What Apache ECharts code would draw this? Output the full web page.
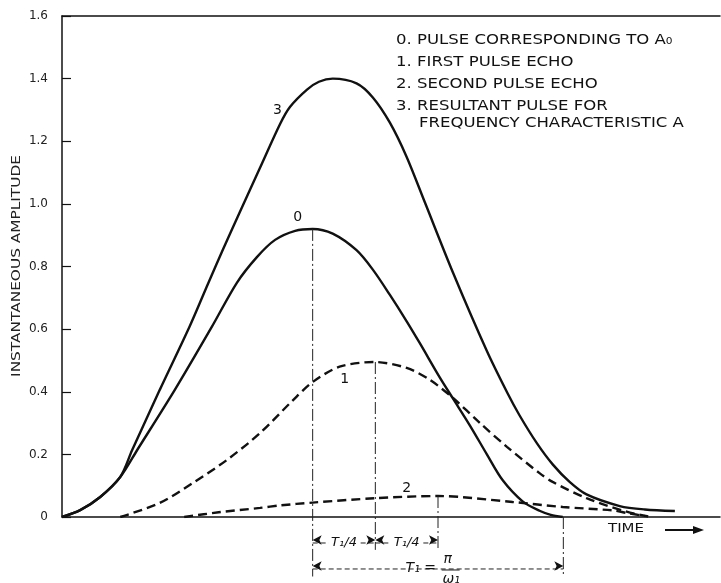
<!DOCTYPE html>
<html>
<head>
<meta charset="utf-8">
<script src="https://cdn.jsdelivr.net/npm/echarts@6/dist/echarts.min.js"></script>
<style>
  html, body { margin: 0; padding: 0; background: #fff; }
  #chart { width: 721px; height: 583px; }
</style>
</head>
<body>
<div id="chart"></div>
<script>
// time in units of T1/4, amplitude
var pulse0 = [[0,0],[0.29,0.022],[0.61,0.064],[0.93,0.128],[1.2,0.214],[1.8,0.406],[2.39,0.607],
  [2.79,0.748],[3.11,0.83],[3.4,0.885],[3.72,0.914],[4.0,0.92],[4.32,0.905],[4.7,0.852],[4.96,0.79],
  [5.23,0.71],[5.5,0.625],[5.71,0.555],[6.03,0.445],[6.24,0.378],[6.51,0.292],[6.78,0.2],[7.03,0.118],
  [7.35,0.05],[7.62,0.02],[7.8,0.007],[7.99,0]];
var echo1 = [[0.93,0],[1.56,0.045],[2.09,0.109],[2.63,0.182],[3.16,0.268],[3.68,0.372],[4.0,0.431],
  [4.43,0.48],[4.99,0.495],[5.5,0.476],[5.87,0.438],[6.24,0.38],[6.67,0.30],[7.1,0.224],[7.62,0.14],
  [7.83,0.112],[8.37,0.06],[9.01,0.017],[9.4,0]];
var echo2 = [[1.95,0],[2.5,0.015],[3.16,0.029],[3.48,0.037],[4.0,0.046],[4.99,0.06],[6.0,0.067],
  [7.19,0.048],[7.99,0.032],[8.79,0.021],[9.01,0.013],[9.3,0.003]];
var resultant = [[0,0],[0.29,0.022],[0.61,0.064],[0.93,0.128],[1.12,0.214],[1.56,0.406],[2.04,0.61],
  [2.33,0.745],[2.57,0.855],[2.84,0.975],[3.16,1.115],[3.48,1.255],[3.64,1.31],[3.91,1.365],[4.1,1.39],
  [4.32,1.40],[4.7,1.385],[4.96,1.34],[5.23,1.26],[5.5,1.15],[5.79,1.005],[6.24,0.78],[6.78,0.53],
  [7.11,0.395],[7.3,0.325],[7.58,0.235],[7.83,0.168],[8.1,0.112],[8.37,0.072],[8.9,0.035],[9.3,0.024],
  [9.78,0.019]];

var yTickLabels = ['0', '0.2', '0.4', '0.6', '0.8', '1.0', '1.2', '1.4', '1.6'];
var legendLines = [
  '0. PULSE CORRESPONDING TO A\u2080',
  '1. FIRST PULSE ECHO',
  '2. SECOND PULSE ECHO',
  '3. RESULTANT PULSE FOR',
  'FREQUENCY CHARACTERISTIC A'
];
var curveNumbers = ['0', '1', '2', '3'];
var numberAt = [[3.76, 0.958], [4.51, 0.44], [5.5, 0.093], [3.44, 1.30]];

// dash-dot guides dropped from the peaks
var guideX = [4, 5, 6, 8];
var guideTop = [0.92, 0.495, 0.067, 0];
var guideBottom = [-0.19, -0.105, -0.105, -0.185];
var quarterRowY = -0.083;
var periodRowY = -0.166;

var ink = '#111';
var font = '"DejaVu Sans", sans-serif';

var chart = echarts.init(document.getElementById('chart'), null, { renderer: 'canvas' });

function curve(name, data, dashed, idx) {
  return {
    name: name,
    type: 'line',
    data: data,
    smooth: 0.3,
    showSymbol: false,
    symbol: 'none',
    lineStyle: { color: ink, width: 2.4, type: dashed ? [9, 5] : 'solid' },
    markPoint: {
      symbol: 'rect',
      symbolSize: 1,
      itemStyle: { color: 'rgba(0,0,0,0)' },
      label: { show: true, position: 'inside', color: ink, fontSize: 14, fontFamily: font, formatter: '{b}' },
      data: [{ name: curveNumbers[idx], coord: numberAt[idx] }]
    }
  };
}

function guide(i) {
  return {
    type: 'line', clip: false, silent: true, symbol: 'none',
    data: [[guideX[i], guideTop[i]], [guideX[i], guideBottom[i]]],
    lineStyle: { color: '#222', width: 1, type: [12, 3, 2, 3] }
  };
}

function arrowRow(x0, x1, y, text) {
  var pts = [
    { value: [x0, y], symbol: 'arrow', symbolRotate: 90, symbolOffset: [0, -3] },
    { value: [x1, y], symbol: 'arrow', symbolRotate: -90, symbolOffset: [0, -3] }
  ];
  if (text) {
    pts.splice(1, 0, {
      value: [(x0 + x1) / 2, y], symbol: 'circle', symbolSize: 1,
      itemStyle: { color: 'rgba(0,0,0,0)' },
      label: {
        show: true, position: 'inside', formatter: text, color: ink,
        fontSize: 13, fontFamily: font, fontStyle: 'italic',
        backgroundColor: '#fff', padding: [1, 3]
      }
    });
  }
  return {
    type: 'line', clip: false, silent: true, showSymbol: true, showAllSymbol: true,
    symbolSize: [7, 9], itemStyle: { color: ink },
    data: pts,
    lineStyle: { color: '#222', width: 1, type: [5, 3] }
  };
}

var series = [
  curve('pulse0', pulse0, false, 0),
  curve('echo1', echo1, true, 1),
  curve('echo2', echo2, true, 2),
  curve('resultant', resultant, false, 3)
];
guideX.forEach(function(x, i) { series.push(guide(i)); });
series.push(arrowRow(guideX[0], guideX[1], quarterRowY, 'T\u2081/4'));
series.push(arrowRow(guideX[1], guideX[2], quarterRowY, 'T\u2081/4'));
series.push(arrowRow(guideX[0], guideX[3], periodRowY, ''));

chart.setOption({
  animation: false,
  grid: { left: 62, right: 1, top: 16, bottom: 66 },
  xAxis: [{
    type: 'value', min: 0, max: 10.5,
    axisLine: { show: true, onZero: false, lineStyle: { color: ink, width: 1.5 } },
    axisTick: { show: false }, axisLabel: { show: false }, splitLine: { show: false }
  }, {
    type: 'value', min: 0, max: 10.5, position: 'top',
    axisLine: { show: true, onZero: false, lineStyle: { color: ink, width: 1.5 } },
    axisTick: { show: false }, axisLabel: { show: false }, splitLine: { show: false }
  }],
  yAxis: {
    type: 'value', min: 0, max: 1.6, interval: 0.2,
    axisLine: { show: true, lineStyle: { color: ink, width: 1.5 } },
    axisTick: { show: true, inside: true, length: 9, lineStyle: { color: ink, width: 1.2 } },
    axisLabel: {
      color: '#222', fontSize: 12, fontFamily: font, margin: 14,
      formatter: function(v) { return yTickLabels[Math.round(v / 0.2)]; }
    },
    splitLine: { show: false }
  },
  series: series
});

// legend block, axis name, fraction label and TIME arrow
var g = [];
var legendY = [40, 62, 84, 106, 123];
var legendX = [396, 396, 396, 396, 419];
legendLines.forEach(function(t, i) {
  g.push({ type: 'text', x: legendX[i], y: legendY[i], scaleX: 1.18,
    style: { text: t, fill: ink, font: '14px ' + font, textVerticalAlign: 'middle' } });
});
g.push({ type: 'text', x: 17, y: 266, rotation: Math.PI / 2, scaleX: 1.18,
  style: { text: 'INSTANTANEOUS AMPLITUDE', fill: '#222', font: '13px ' + font,
    textAlign: 'center', textVerticalAlign: 'middle' } });
var fr = chart.convertToPixel({ gridIndex: 0 }, [5.93, periodRowY]);
g.push({ type: 'rect', shape: { x: fr[0] - 32, y: fr[1] - 16, width: 62, height: 32 }, style: { fill: '#fff' } });
g.push({ type: 'text', x: fr[0] - 28, y: fr[1] - 8,
  style: { text: 'T\u2081 =', fill: ink, font: 'italic 14px ' + font } });
g.push({ type: 'text', x: fr[0] + 10, y: fr[1] - 17,
  style: { text: '\u03c0', fill: ink, font: 'italic 14px ' + font } });
g.push({ type: 'line', shape: { x1: fr[0] + 8, y1: fr[1] + 1, x2: fr[0] + 26, y2: fr[1] + 1 }, style: { stroke: ink, lineWidth: 1 } });
g.push({ type: 'text', x: fr[0] + 9, y: fr[1] + 3,
  style: { text: '\u03c9\u2081', fill: ink, font: 'italic 14px ' + font } });
g.push({ type: 'text', x: 608, y: 529, scaleX: 1.15,
  style: { text: 'TIME', fill: ink, font: '13px ' + font, textVerticalAlign: 'middle' } });
g.push({ type: 'line', shape: { x1: 665, y1: 530, x2: 696, y2: 530 }, style: { stroke: ink, lineWidth: 2 } });
g.push({ type: 'polygon', shape: { points: [[693, 526], [704, 530], [693, 534]] }, style: { fill: ink } });
chart.setOption({ graphic: g });
</script>
</body>
</html>
